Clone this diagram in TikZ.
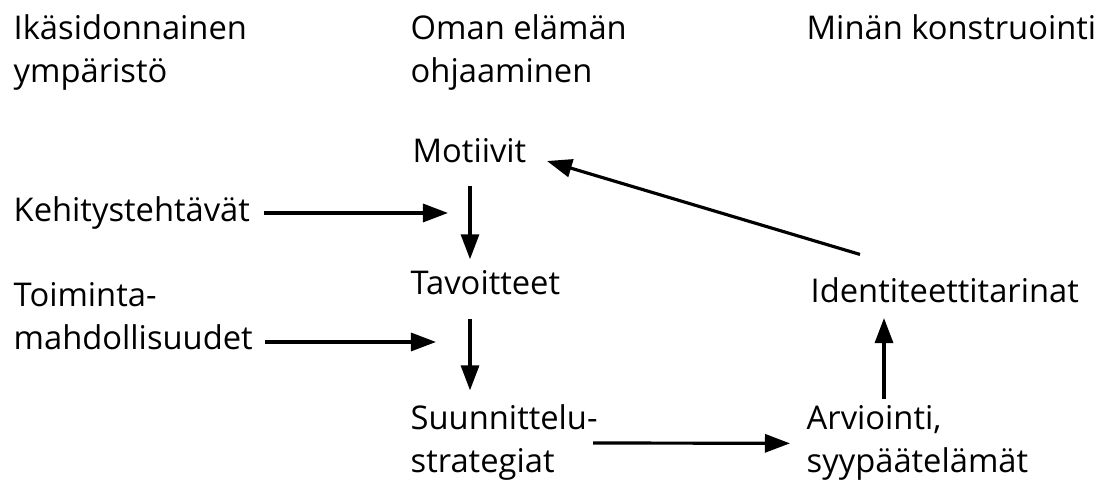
\documentclass[tikz,border=0pt]{standalone}
\usepackage{fontspec}
\setmainfont{Open Sans}
\usetikzlibrary{arrows.meta, calc}

\begin{document}
\begin{tikzpicture}[x=0.01cm, y=-0.01cm,
	lbl/.style={rectangle, inner sep=0pt, anchor=base west, align=left, font=\fontsize{9.3pt}{12.24pt}\selectfont},
	flow/.style={-{Triangle[length=0.25cm,width=0.18cm]}, line width=0.9pt}]
	\useasboundingbox (0,0) rectangle (1109,486);

	% column headings (base = last line)
	\node[lbl] at (13,83) (ika) {Ikäsidonnainen\\ympäristö};
	\node[lbl] at (410,83) (oman) {Oman elämän\\ohjaaminen};
	\node[lbl] at (806,40) (minan) {Minän konstruointi};

	% middle column
	\node[lbl] at (412,163) (motiivit) {Motiivit};
	\node[lbl] at (410,295) (tavoitteet) {Tavoitteet};
	\node[lbl] at (410,473) (suunn) {Suunnittelu-\\strategiat};

	% left column
	\node[lbl] at (13,222) (kehitys) {Kehitystehtävät};
	\node[lbl] at (13,350) (toiminta) {Toiminta-\\mahdollisuudet};

	% right column
	\node[lbl] at (810,303) (ident) {Identiteettitarinat};
	\node[lbl] at (806,473) (arv) {Arviointi,\\syypäätelämät};

	\coordinate (col) at (470,0);
	\coordinate (col2) at (884,0);
	\coordinate (kend) at (448,213);
	\coordinate (tend) at (436,342);

	\draw[flow, shorten <=0.13cm] (kehitys.east |- kend) -- (kend);
	\draw[flow, shorten <=0.12cm] (toiminta.east |- tend) -- (tend);
	\draw[flow, shorten <=0.22cm, shorten >=0.11cm] (motiivit.south -| col) -- (tavoitteet.north -| col);
	\draw[flow, shorten <=0.23cm, shorten >=0.14cm] (tavoitteet.south -| col) -- (suunn.north -| col);
	\draw[flow, shorten <=-0.05cm, shorten >=0.16cm] (suunn.east) -- (arv.west);
	\draw[flow, shorten <=0.06cm, shorten >=0.14cm] (arv.north -| col2) -- (ident.south -| col2);
	\draw[flow] ($(ident.north west)+(50,-23)$) -- ($(motiivit.south east)+(20,-3)$);
\end{tikzpicture}
\end{document}
